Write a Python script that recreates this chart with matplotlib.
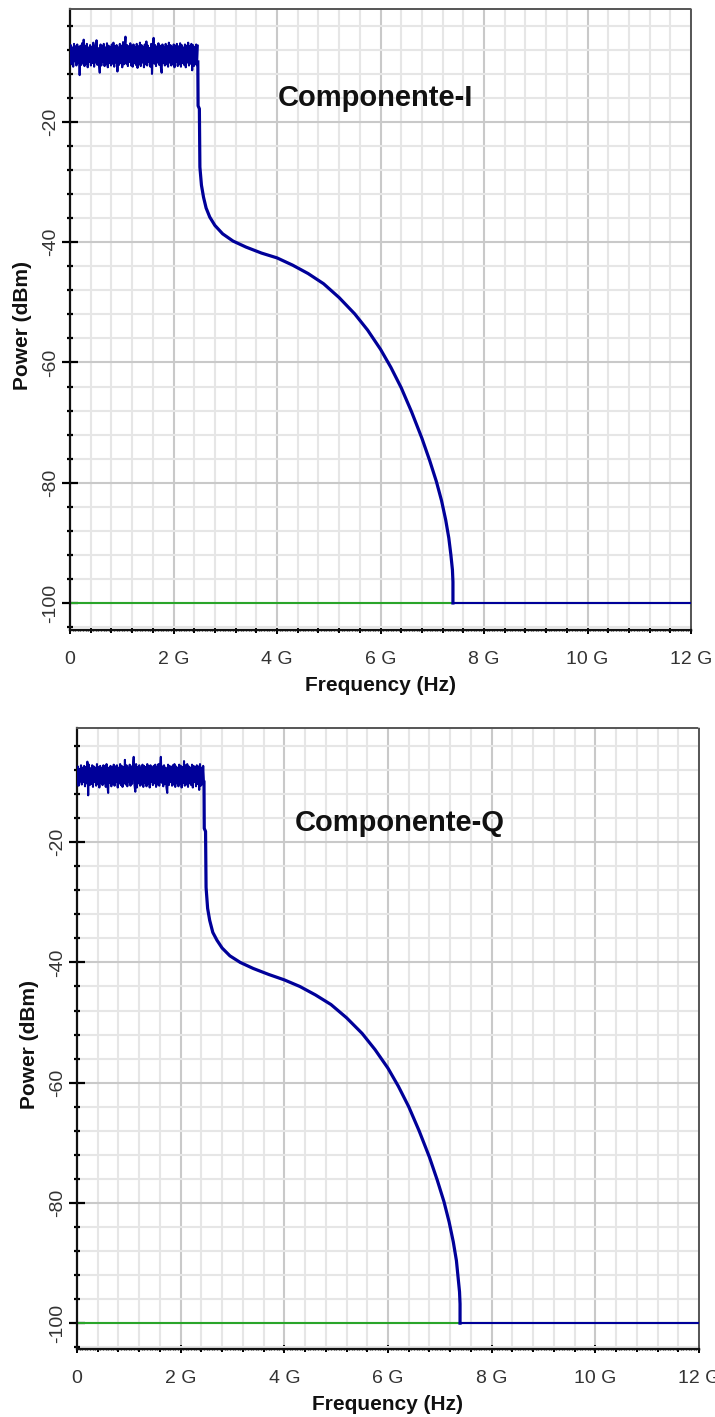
import matplotlib
matplotlib.use("Agg")
import matplotlib.pyplot as plt
import numpy as np
from matplotlib.ticker import MultipleLocator, FuncFormatter

plt.rcParams["font.family"] = ["Liberation Sans", "DejaVu Sans"]
plt.rcParams["axes.unicode_minus"] = False

# ---- data (GHz / dBm) ----
noise_i = [
    -9.5, -7.2, -10.4, -7.6, -10.8, -7.0, -9.9, -7.4, -10.6, -7.1,
    -10.2, -7.5, -12.2, -7.3, -10.5, -6.9, -10.1, -6.3, -10.7, -7.4,
    -10.3, -7.0, -10.9, -7.6, -10.0, -7.2, -10.6, -7.5, -10.2, -6.8,
    -10.8, -7.3, -10.1, -6.4, -10.5, -7.7, -10.3, -11.8, -7.1, -10.6,
    -7.4, -10.0, -7.0, -10.7, -7.6, -10.4, -6.9, -10.9, -7.3, -10.2,
    -7.5, -10.6, -7.1, -10.3, -6.8, -10.8, -7.4, -10.1, -7.2, -11.6,
    -7.6, -10.5, -7.0, -10.2, -7.3, -10.9, -6.7, -10.4, -7.5, -5.8,
    -10.3, -7.2, -10.7, -7.4, -10.0, -6.9, -10.6, -7.3, -10.8, -7.1,
    -10.2, -7.6, -10.5, -7.0, -11.0, -7.4, -10.3, -6.8, -10.7, -7.2,
    -10.1, -7.5, -10.9, -7.1, -10.4, -6.6, -10.6, -7.3, -10.0, -7.7,
    -10.8, -7.0, -12.0, -7.4, -6.0, -10.3, -7.2, -10.7, -7.5, -10.1,
    -6.9, -10.5, -7.3, -10.9, -11.8, -7.1, -10.2, -7.6, -10.6, -7.0,
    -10.4, -7.4, -10.8, -6.8, -10.1, -7.2, -10.6, -7.5, -10.3, -7.1,
    -10.9, -7.3, -10.0, -7.0, -10.7, -7.4, -10.4, -6.9, -10.8, -7.2,
    -10.2, -7.6, -10.5, -7.1, -10.9, -7.3, -10.1, -6.8, -10.6, -7.4,
    -10.3, -7.0, -11.4, -7.2, -10.7, -7.5, -10.4, -7.1, -10.6, -7.3,
]
noise_q = [
    -10.1, -7.4, -10.6, -7.8, -9.9, -7.2, -10.4, -7.6, -10.0, -7.3,
    -10.7, -7.5, -10.2, -6.6, -12.2, -7.1, -10.5, -7.7, -10.3, -7.2,
    -10.8, -7.4, -10.0, -7.6, -10.6, -7.0, -10.3, -7.5, -10.9, -7.3,
    -10.1, -7.7, -10.5, -7.2, -10.2, -7.4, -10.8, -7.0, -10.4, -11.8,
    -7.6, -10.1, -7.3, -10.7, -7.5, -10.3, -7.1, -10.6, -7.4, -10.0,
    -7.2, -10.9, -7.6, -10.2, -7.0, -10.5, -7.3, -10.8, -7.5, -10.1,
    -6.3, -10.4, -7.2, -10.7, -7.6, -10.0, -7.1, -10.6, -7.4, -10.3,
    -7.3, -5.8, -10.5, -11.6, -7.0, -10.9, -7.5, -10.2, -7.2, -10.6,
    -7.6, -10.4, -7.1, -10.8, -7.3, -10.1, -7.5, -10.7, -7.0, -10.3,
    -7.4, -10.9, -7.2, -10.0, -7.6, -10.5, -7.3, -10.2, -7.1, -10.8,
    -7.5, -10.4, -7.0, -10.6, -7.3, -5.8, -10.1, -7.4, -10.7, -7.2,
    -10.3, -7.6, -10.9, -11.8, -7.1, -10.5, -7.3, -10.0, -7.5, -10.6,
    -7.2, -10.4, -7.0, -10.8, -7.4, -10.2, -7.6, -10.7, -7.1, -10.3,
    -7.3, -10.9, -7.5, -10.1, -6.5, -10.6, -7.2, -10.4, -7.0, -10.8,
    -7.4, -10.2, -7.6, -10.5, -7.1, -10.9, -7.3, -10.0, -7.5, -10.7,
    -7.2, -10.3, -7.4, -11.3, -7.0, -10.6, -7.6, -10.4, -7.3, -10.1,
]
cut_i = 2.47
cut_q = 2.45

roll_f_i = [2.47, 2.475, 2.50, 2.51, 2.54, 2.58, 2.63, 2.70, 2.80, 2.95, 3.15, 3.40, 3.70, 4.00, 4.30,
            4.60, 4.90, 5.20, 5.50, 5.75, 6.00, 6.20, 6.40, 6.60, 6.80, 6.95, 7.08, 7.18, 7.26, 7.32,
            7.36, 7.39, 7.40, 7.40]
roll_p_i = [-10.0, -17.3, -17.8, -27.5, -30.5, -32.5, -34.3, -35.8, -37.2, -38.6, -39.8, -40.8, -41.8, -42.6, -43.8,
            -45.2, -46.9, -49.2, -51.9, -54.6, -57.8, -60.8, -64.2, -68.2, -72.6, -76.3, -79.8, -83.0, -86.2, -89.2,
            -92.0, -94.5, -96.5, -100.0]
roll_f_q = [2.45, 2.455, 2.48, 2.49, 2.52, 2.56, 2.62, 2.70, 2.80, 2.95, 3.15, 3.40, 3.70, 4.00, 4.30,
            4.60, 4.90, 5.20, 5.50, 5.75, 6.00, 6.20, 6.40, 6.60, 6.80, 6.95, 7.08, 7.18, 7.26, 7.32,
            7.35, 7.38, 7.39, 7.39]
roll_p_q = [-10.0, -17.7, -18.2, -27.5, -31.0, -33.0, -35.0, -36.3, -37.6, -38.9, -40.0, -41.0, -42.0, -42.9, -44.0,
            -45.4, -47.0, -49.2, -51.8, -54.5, -57.6, -60.6, -64.0, -68.0, -72.4, -76.2, -79.8, -83.2, -86.5, -89.6,
            -92.2, -94.8, -96.8, -100.0]

floor_f = [7.40, 12.0]
floor_p = [-100.0, -100.0]
ref_f = [0.0, 12.0]
ref_p = [-100.0, -100.0]

BLUE = "#000099"
GREEN = "#2aa52a"


def fmt_ghz(v, pos):
    if abs(v) < 1e-9:
        return "0"
    return f"{v:g} G"


def draw_panel(ax, noise, cut, roll_f, roll_p, fend, title, title_xy, ylim):
    nf = np.linspace(0.0, cut, len(noise))
    ax.plot(ref_f, ref_p, color=GREEN, lw=1.5, zorder=2)
    ax.plot(nf, noise, color=BLUE, lw=1.5, zorder=3)
    ax.plot(roll_f, roll_p, color=BLUE, lw=2.3, zorder=3, solid_joinstyle="round")
    ax.plot([fend, floor_f[1]], floor_p, color=BLUE, lw=1.5, zorder=3)

    ax.set_xlim(0, 12)
    ax.set_ylim(*ylim)
    ax.xaxis.set_major_locator(MultipleLocator(2))
    ax.xaxis.set_minor_locator(MultipleLocator(0.4))
    ax.xaxis.set_major_formatter(FuncFormatter(fmt_ghz))
    ax.yaxis.set_major_locator(MultipleLocator(20))
    ax.yaxis.set_minor_locator(MultipleLocator(4))

    ax.grid(which="major", color="#c9c9c9", lw=1.5)
    ax.grid(which="minor", color="#e6e6e6", lw=1.5)
    ax.set_axisbelow(True)

    for s in ("left", "bottom"):
        ax.spines[s].set_linewidth(1.6)
        ax.spines[s].set_color("#111111")
    for s in ("top", "right"):
        ax.spines[s].set_linestyle((0, (1, 1)))
        ax.spines[s].set_linewidth(1.4)
        ax.spines[s].set_color("#555555")

    ax.tick_params(axis="x", which="major", direction="inout", length=6, width=1.4,
                   pad=12, labelsize=14, labelcolor="#333333")
    ax.tick_params(axis="x", which="minor", direction="inout", length=4, width=1.4)
    ax.tick_params(axis="y", which="major", direction="inout", length=11, width=1.6,
                   pad=2, labelsize=14, labelcolor="#333333", labelrotation=90)
    ax.tick_params(axis="y", which="minor", direction="inout", length=5, width=1.6)
    for lbl in ax.get_yticklabels():
        lbl.set_va("center")

    sec = ax.secondary_xaxis("bottom")
    sec.xaxis.set_major_locator(MultipleLocator(0.05))
    sec.tick_params(direction="inout", length=2, width=1.0, labelbottom=False, color="#222222")
    sec.spines["bottom"].set_visible(False)

    ax.set_xlabel("Frequency (Hz)", fontsize=15, fontweight="bold", color="#111111")
    ax.set_ylabel("Power (dBm)", fontsize=15, fontweight="bold", color="#111111")
    ax.xaxis.set_label_coords(0.5, -0.09)
    ax.xaxis.label.set_va("center")
    ax.yaxis.set_label_coords(-0.077, 0.49)
    ax.yaxis.label.set_va("center")

    ax.text(title_xy[0], title_xy[1], title, fontsize=21, fontweight="bold",
            color="#111111", ha="center", va="center")


fig = plt.figure(figsize=(7.15, 14.17), dpi=100)
ax1 = fig.add_axes([70 / 715, 1 - 630 / 1417, 621 / 715, 621 / 1417])
ax2 = fig.add_axes([77 / 715, 1 - 1349 / 1417, 622 / 715, 621 / 1417])

draw_panel(ax1, noise_i, cut_i, roll_f_i, roll_p_i, 7.40, "Componente-I", (5.91, -16.0), (-104.5, -1.2))
draw_panel(ax2, noise_q, cut_q, roll_f_q, roll_p_q, 7.39, "Componente-Q", (6.23, -16.8), (-104.3, -1.0))

fig.savefig("out.png", dpi=100)
